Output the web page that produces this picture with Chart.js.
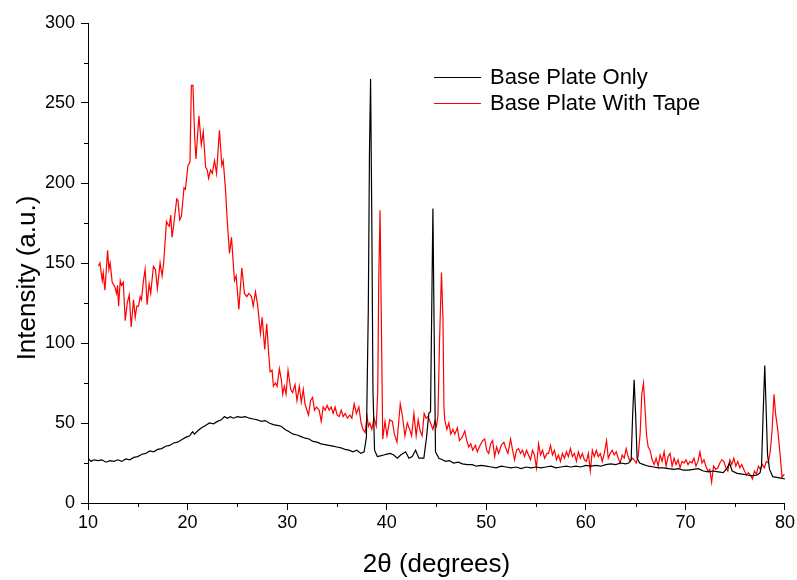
<!DOCTYPE html>
<html>
<head>
<meta charset="utf-8">
<script src="https://cdn.jsdelivr.net/npm/chart.js@4.4.1/dist/chart.umd.min.js"></script>
<style>
  html, body { margin: 0; padding: 0; background: #fff; }
  #wrap { width: 797px; height: 580px; }
</style>
</head>
<body>
<div id="wrap"><canvas id="myChart" width="797" height="580"></canvas></div>
<script>
// Data
const seriesNames = ['Base Plate Only', 'Base Plate With Tape'];

const xBase = [10, 10.3, 10.6, 11, 11.4, 11.8, 12.2, 12.6, 13, 13.4, 13.8, 14.2, 14.6, 15, 15.4, 15.8,
    16.2, 16.6, 17, 17.4, 17.8, 18.2, 18.6, 19, 19.4, 19.8, 20.2, 20.5, 20.7, 21, 21.4, 21.8, 22.2,
    22.6, 23, 23.4, 23.7, 24, 24.3, 24.6, 25, 25.4, 25.8, 26.2, 26.6, 27, 27.4, 27.8, 28.2, 28.6, 29,
    29.4, 29.8, 30.2, 30.6, 31, 31.4, 31.8, 32.2, 32.6, 33, 33.4, 33.8, 34.2, 34.6, 35, 35.4, 35.8,
    36.2, 36.6, 37, 37.4, 37.73, 37.96, 38.15, 38.27, 38.38, 38.5, 38.62, 38.78, 39.06, 39.36, 39.7,
    40.03, 40.35, 40.7, 41.07, 41.4, 41.9, 42.23, 42.56, 42.9, 43.23, 43.73, 44.0, 44.23, 44.4, 44.52,
    44.64, 44.76, 44.9, 45.24, 45.6, 45.9, 46.3, 46.7, 47.2, 47.6, 48.1, 48.6, 49, 49.5, 50, 50.5, 51,
    51.5, 52, 52.5, 53, 53.5, 54, 54.5, 55, 55.5, 56, 56.5, 57, 57.5, 58, 58.5, 59, 59.5, 60, 60.5, 61,
    61.5, 62, 62.5, 63, 63.5, 64, 64.3, 64.55, 64.7, 64.85, 65.0, 65.15, 65.4, 65.8, 66.3, 66.8, 67.3,
    67.8, 68.3, 68.8, 69.3, 69.8, 70.3, 70.8, 71.3, 71.8, 72.3, 72.8, 73.3, 73.8, 74.2, 74.43, 74.7,
    75.2, 75.7, 76.2, 76.7, 77.2, 77.5, 77.65, 77.8, 77.97, 78.1, 78.25, 78.45, 78.77, 79.2, 79.6, 80];
const yBase = [28, 26, 27, 26.5, 27, 25.5, 26.5, 26, 27, 26, 27.5, 27, 28.5, 29, 30.5, 31,
    32.5, 32, 33.5, 34, 35.5, 36, 37.5, 38, 39.5, 41, 42, 44.5, 43, 45, 47, 48.5, 50,
    49.5, 51, 52, 54, 53, 54, 53, 54, 53.5, 54, 53, 52.5, 52, 51, 51.5, 50, 49, 48.5,
    48, 46, 44.5, 43, 42.5, 41.5, 40.5, 40, 38.5, 38, 37, 36.5, 36, 35.5, 35, 34.5, 33.5,
    33, 32, 33, 31, 32, 41, 120, 220, 265, 180, 70, 33, 29, 29.5, 30,
    30.5, 31, 30, 28, 30, 32, 28, 29, 33, 28, 28, 41, 56, 57, 120,
    184, 110, 32, 28, 27, 26, 26.5, 25, 25.5, 24.5, 24, 24, 23, 23.5, 23, 22.5, 22,
    23, 22.5, 22, 22.5, 21.5, 22.5, 22, 22.5, 22, 22.5, 23, 22, 22.5, 23, 22.5, 23, 22.5, 23.5, 23, 23.5,
    23, 24, 24.5, 24, 25, 24.5, 25, 27, 55, 77, 55, 28, 25, 24, 23, 22.5, 22,
    22, 21.5, 21, 21.5, 20.5, 20.5, 21, 21.5, 20, 19.5, 20, 19.5, 19, 22, 25, 20,
    18.5, 18, 17.5, 17, 17.5, 19, 24, 55, 86, 60, 30, 21, 16.5, 16, 15.5, 15];

const xTape = [11.03, 11.2, 11.43, 11.53, 11.7, 11.97, 12.1, 12.23, 12.43, 12.7, 12.87, 12.97, 13.07,
    13.24, 13.37, 13.54, 13.74, 13.94, 14.14, 14.34, 14.57, 14.74, 14.9, 15.07, 15.24, 15.37, 15.57,
    15.74, 15.94, 16.14, 16.3, 16.57, 16.77, 16.97, 17.24, 17.44, 17.6, 17.88, 18.04, 18.17, 18.31,
    18.44, 18.61, 18.91, 19.04, 19.21, 19.38, 19.51, 19.64, 19.78, 20.04, 20.24, 20.38, 20.54, 20.71,
    20.84, 21.14, 21.38, 21.58, 21.81, 21.98, 22.11, 22.31, 22.48, 22.71, 22.91, 23.2, 23.44, 23.58,
    23.81, 23.98, 24.21, 24.41, 24.71, 24.88, 25.15, 25.45, 25.71, 25.95, 26.15, 26.42, 26.59, 26.82,
    27.05, 27.32, 27.49, 27.75, 27.95, 28.15, 28.29, 28.49, 28.62, 28.82, 28.99, 29.22, 29.42, 29.55,
    29.72, 29.89, 30.09, 30.35, 30.55, 30.79, 30.99, 31.22, 31.42, 31.62, 31.79, 31.99, 32.15, 32.35,
    32.55, 32.75, 32.95, 33.22, 33.42, 33.62, 33.82, 34.02, 34.22, 34.42, 34.62, 34.82, 35.02, 35.22,
    35.43, 35.63, 35.83, 36.06, 36.3, 36.5, 36.73, 36.96, 37.2, 37.43, 37.63, 37.83, 38.03, 38.16,
    38.3, 38.5, 38.73, 38.95, 39.1, 39.2, 39.33, 39.45, 39.6, 39.83, 40.03, 40.3, 40.57, 40.77, 41.03,
    41.36, 41.56, 41.83, 42.07, 42.3, 42.5, 42.73, 42.96, 43.16, 43.36, 43.56, 43.76, 43.96, 44.16,
    44.4, 44.64, 44.83, 45.0, 45.15, 45.3, 45.5, 45.65, 45.75, 45.83, 46.04, 46.24, 46.44, 46.64,
    46.84, 47.1, 47.3, 47.57, 47.84, 48.04, 48.24, 48.44, 48.64, 48.9, 49.1, 49.37, 49.64, 49.84,
    50.04, 50.24, 50.44, 50.64, 50.84, 51.04, 51.24, 51.51, 51.77, 51.97, 52.17, 52.44, 52.64, 52.84,
    53.04, 53.24, 53.44, 53.64, 53.84, 54.04, 54.24, 54.44, 54.64, 54.84, 55.04, 55.25, 55.45, 55.65,
    55.85, 56.1, 56.25, 56.45, 56.65, 56.85, 57.05, 57.25, 57.45, 57.65, 57.85, 58.05, 58.25, 58.45,
    58.65, 58.85, 59.05, 59.25, 59.45, 59.65, 59.85, 60.05, 60.25, 60.45, 60.65, 60.85, 61.05, 61.25,
    61.45, 61.65, 61.85, 62.08, 62.25, 62.45, 62.65, 62.85, 63.05, 63.25, 63.45, 63.65, 63.85, 64.05,
    64.25, 64.45, 64.65, 64.85, 65.05, 65.25, 65.45, 65.62, 65.79, 65.95, 66.1, 66.26, 66.45, 66.66,
    66.86, 67.06, 67.26, 67.46, 67.66, 67.86, 68.06, 68.26, 68.46, 68.66, 68.86, 69.06, 69.26, 69.46,
    69.66, 69.86, 70.06, 70.26, 70.46, 70.66, 70.86, 71.06, 71.26, 71.46, 71.66, 71.86, 72.06, 72.26,
    72.45, 72.63, 72.83, 73.05, 73.26, 73.46, 73.66, 73.86, 74.06, 74.26, 74.46, 74.66, 74.86, 75.06,
    75.26, 75.46, 75.66, 75.93, 76.13, 76.33, 76.53, 76.73, 76.93, 77.13, 77.33, 77.53, 77.73, 77.93,
    78.13, 78.33, 78.53, 78.7, 78.9, 79.05, 79.27, 79.53, 79.7, 79.93];
const yTape = [148, 150, 139, 144, 133, 158, 146, 150, 138, 135, 131, 136, 123,
    139, 136, 138, 114, 125, 130, 110, 127, 116, 123, 123, 129, 127, 139,
    146, 124, 137, 131, 148, 146, 134, 150, 142, 150, 176, 174, 173, 180,
    166, 174, 190, 189, 177, 179, 188, 197, 196, 211, 213, 261, 261, 229,
    215, 242, 224, 232, 210, 208, 203, 208, 206, 214, 206, 233, 211, 214,
    196, 177, 156, 166, 139, 142, 121, 147, 131, 129, 131, 129, 123, 132,
    123, 106, 116, 96, 112, 93, 82, 83, 73, 75, 73, 84, 77, 68,
    73, 68, 83, 71, 69, 74, 64, 73, 63, 71, 62, 58, 55, 64,
    66, 58, 60, 58, 51, 60, 58, 61, 58, 60, 56, 60, 55, 54,
    58, 54, 56, 53, 55, 53, 62, 56, 60, 50, 46, 44, 54, 48,
    50, 46, 53, 48, 70, 140, 183, 120, 40, 51, 42, 52, 51, 43, 38,
    62, 55, 42, 50, 46, 42, 56, 42, 52, 45, 42, 56, 53, 54,
    50, 46, 51, 48, 55, 100, 144, 115, 60, 52, 46, 50, 43, 46,
    43, 47, 39, 41, 45, 39, 35, 37, 33, 36, 32, 36, 39, 40,
    33, 31, 37, 39, 29, 35, 31, 36, 38, 34, 31, 40, 33, 27,
    33, 34, 31, 33, 29, 33, 30, 27, 33, 30, 22, 37, 30, 33,
    28, 31, 31, 36, 30, 33, 27, 30, 26, 31, 28, 32, 29, 34,
    29, 31, 26, 32, 28, 31, 27, 26, 31, 20, 33, 29, 33, 29,
    31, 26, 31, 39, 28, 31, 33, 30, 32, 28, 25, 30, 28, 34,
    29, 26, 28, 27, 25, 29, 43, 68, 75, 58, 42, 35, 33, 27,
    24, 28, 23, 30, 26, 32, 23, 29, 31, 23, 28, 24, 27, 22,
    26, 25, 27, 24, 26, 25, 28, 23, 26, 32, 25, 27, 23, 20,
    21, 13, 23, 21, 22, 25, 27, 26, 22, 20, 27, 24, 28, 23,
    26, 22, 24, 20, 17.5, 19, 17.5, 15, 20, 18, 23, 21, 24, 22,
    26, 25, 33, 45, 68, 56, 46, 29, 16, 18];

const xRange = [10, 80];
const yRange = [0, 300];
const xTickStep = 10;
const yTickStep = 50;
const yTitle = 'Intensity (a.u.)';

const FONT = "'Liberation Sans', Arial, sans-serif";
const COLORS = ['#000000', '#ff0000'];

function points(xs, ys) {
    return xs.map((x, i) => ({ x: x, y: ys[i] }));
}

// minor ticks, y title and legend drawn by hand
const extras = {
    id: 'extras',
    afterDraw(chart) {
        const ctx = chart.ctx;
        const xs = chart.scales.x, ys = chart.scales.y;
        ctx.save();
        ctx.strokeStyle = '#000';
        ctx.lineWidth = 1;
        ctx.beginPath();
        for (let v = xRange[0] + xTickStep / 2; v < xRange[1]; v += xTickStep) {
            const px = Math.round(xs.getPixelForValue(v)) + 0.5;
            ctx.moveTo(px, ys.bottom);
            ctx.lineTo(px, ys.bottom + 4);
        }
        for (let v = yRange[0] + yTickStep / 2; v < yRange[1]; v += yTickStep) {
            const py = Math.round(ys.getPixelForValue(v)) + 0.5;
            ctx.moveTo(xs.left, py);
            ctx.lineTo(xs.left - 4, py);
        }
        ctx.stroke();

        // y axis title, a bit below the middle like the original
        ctx.fillStyle = '#000';
        ctx.font = '26px ' + FONT;
        ctx.textAlign = 'center';
        ctx.textBaseline = 'middle';
        ctx.translate(28, 278);
        ctx.rotate(-Math.PI / 2);
        ctx.fillText(yTitle, 0, 0);
        ctx.setTransform(1, 0, 0, 1, 0, 0);

        // legend
        ctx.font = '22px ' + FONT;
        ctx.textBaseline = 'middle';
        ctx.textAlign = 'left';
        chart.data.datasets.forEach((ds, i) => {
            const y = 77 + i * 26;
            ctx.strokeStyle = ds.borderColor;
            ctx.beginPath();
            ctx.moveTo(434, y + 0.5);
            ctx.lineTo(481, y + 0.5);
            ctx.stroke();
            ctx.fillStyle = '#000';
            ctx.fillText(ds.label, 490, y + 1);
        });
        ctx.restore();
    }
};

const data = {
    datasets: [{
            label: seriesNames[0],
            data: points(xBase, yBase),
            borderColor: COLORS[0],
            borderWidth: 1.2,
            pointRadius: 0,
            tension: 0,
        },
        {
            label: seriesNames[1],
            data: points(xTape, yTape),
            borderColor: COLORS[1],
            borderWidth: 1.2,
            pointRadius: 0,
            tension: 0,
        }
    ]
};

const config = {
    type: 'line',
    data: data,
    options: {
        responsive: false,
        animation: false,
        layout: { padding: { left: 0, right: 10, top: 23, bottom: 0 } },
        plugins: {
            legend: { display: false },
            tooltip: { enabled: false }
        },
        scales: {
            x: {
                type: 'linear',
                min: xRange[0],
                max: xRange[1],
                afterFit(scale) { scale.height = 77; },
                border: { display: true, color: '#000', width: 1 },
                grid: { display: true, drawOnChartArea: false, drawTicks: true, tickLength: 7, color: '#000' },
                ticks: {
                    stepSize: xTickStep,
                    padding: 2,
                    color: '#000',
                    font: { family: FONT, size: 18 },
                    maxRotation: 0
                },
                title: {
                    display: true,
                    text: '2θ (degrees)',
                    color: '#000',
                    font: { family: FONT, size: 26 },
                    padding: { top: 0, bottom: 0 }
                }
            },
            y: {
                min: yRange[0],
                max: yRange[1],
                afterFit(scale) { scale.width = 88; },
                border: { display: true, color: '#000', width: 1 },
                grid: { display: true, drawOnChartArea: false, drawTicks: true, tickLength: 7, color: '#000' },
                ticks: {
                    stepSize: yTickStep,
                    padding: 6,
                    color: '#000',
                    font: { family: FONT, size: 18 }
                },
                title: { display: false }
            }
        }
    },
    plugins: [extras]
};

const myChart = new Chart(document.getElementById('myChart'), config);
</script>
</body>
</html>
